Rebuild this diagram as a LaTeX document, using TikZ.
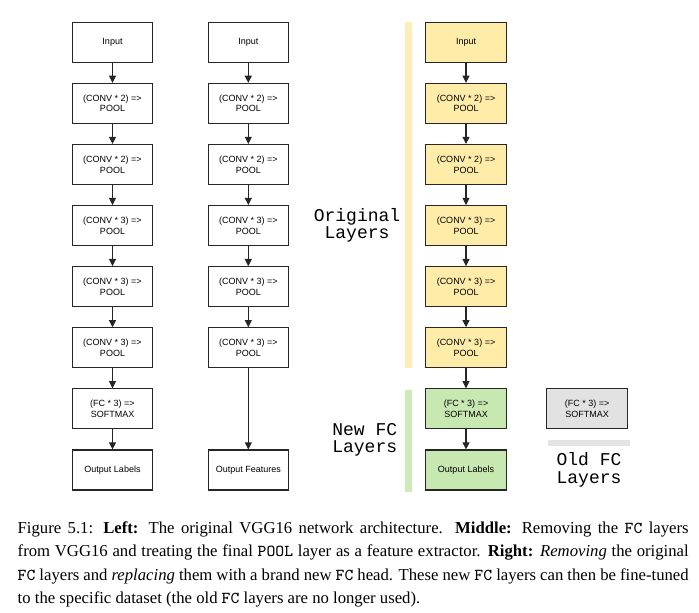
\documentclass[tikz,border=0pt]{standalone}
\usepackage{fontspec}
\setmainfont{Liberation Serif}
\setsansfont{Liberation Sans}
\newfontfamily\courierfont{Liberation Mono}
\usetikzlibrary{
  arrows.meta,
  positioning
}
\definecolor{origcolor}{RGB}{255,236,168}
\definecolor{origbar}{RGB}{255,238,184}
\definecolor{newcolor}{RGB}{200,232,178}
\definecolor{newbar}{RGB}{204,234,186}
\definecolor{oldcolor}{RGB}{226,226,226}
\definecolor{oldbar}{RGB}{228,228,228}

\begin{document}
\begin{tikzpicture}[x=0.5pt, y=-0.5pt, >=Triangle]
  \useasboundingbox (0,0) rectangle (699,612);

  \tikzset{
    lbox/.style={
      draw=black!85, line width=0.55pt, minimum width=40.2pt,
      minimum height=20pt, inner sep=1pt, align=center,
      font=\sffamily\fontsize{4.5}{5.3}\selectfont
    },
    conn/.style={-{Triangle[length=3.6pt, width=3.5pt]}, line width=0.55pt, black!85},
    side/.style={align=center, font=\courierfont\fontsize{9}{8.8}\selectfont}
  }

  % ---- Left column: original VGG16 ----
  \node[lbox] (lin) at (112.5, 42.3) {Input};
  \node[lbox, below=10pt of lin] (lc1) {(CONV * 2) =>\\POOL};
  \node[lbox, below=10pt of lc1] (lc2) {(CONV * 2) =>\\POOL};
  \node[lbox, below=10pt of lc2] (lc3) {(CONV * 3) =>\\POOL};
  \node[lbox, below=10pt of lc3] (lc4) {(CONV * 3) =>\\POOL};
  \node[lbox, below=10pt of lc4] (lc5) {(CONV * 3) =>\\POOL};
  \node[lbox, below=10pt of lc5] (lfc) {(FC * 3) =>\\SOFTMAX};
  \node[lbox, below=10pt of lfc] (lout) {Output Labels};

  \draw[conn] (lin) -- (lc1);
  \draw[conn] (lc1) -- (lc2);
  \draw[conn] (lc2) -- (lc3);
  \draw[conn] (lc3) -- (lc4);
  \draw[conn] (lc4) -- (lc5);
  \draw[conn] (lc5) -- (lfc);
  \draw[conn] (lfc) -- (lout);

  % ---- Middle column: feature extractor ----
  \node[lbox] (min) at (248.3, 42.3) {Input};
  \node[lbox, below=10pt of min] (mc1) {(CONV * 2) =>\\POOL};
  \node[lbox, below=10pt of mc1] (mc2) {(CONV * 2) =>\\POOL};
  \node[lbox, below=10pt of mc2] (mc3) {(CONV * 3) =>\\POOL};
  \node[lbox, below=10pt of mc3] (mc4) {(CONV * 3) =>\\POOL};
  \node[lbox, below=10pt of mc4] (mc5) {(CONV * 3) =>\\POOL};
  \node[lbox] (mout) at (mc5 |- lout) {Output Features};

  \draw[conn] (min) -- (mc1);
  \draw[conn] (mc1) -- (mc2);
  \draw[conn] (mc2) -- (mc3);
  \draw[conn] (mc3) -- (mc4);
  \draw[conn] (mc4) -- (mc5);
  \draw[conn] (mc5) -- (mout);

  % ---- Right column: new FC head ----
  \node[lbox, fill=origcolor] (rin) at (466, 42.3) {Input};
  \node[lbox, fill=origcolor, below=10pt of rin] (rc1) {(CONV * 2) =>\\POOL};
  \node[lbox, fill=origcolor, below=10pt of rc1] (rc2) {(CONV * 2) =>\\POOL};
  \node[lbox, fill=origcolor, below=10pt of rc2] (rc3) {(CONV * 3) =>\\POOL};
  \node[lbox, fill=origcolor, below=10pt of rc3] (rc4) {(CONV * 3) =>\\POOL};
  \node[lbox, fill=origcolor, below=10pt of rc4] (rc5) {(CONV * 3) =>\\POOL};
  \node[lbox, fill=newcolor, below=10pt of rc5] (rfc) {(FC * 3) =>\\SOFTMAX};
  \node[lbox, fill=newcolor, below=10pt of rfc] (rout) {Output Labels};

  \draw[conn] (rin) -- (rc1);
  \draw[conn] (rc1) -- (rc2);
  \draw[conn] (rc2) -- (rc3);
  \draw[conn] (rc3) -- (rc4);
  \draw[conn] (rc4) -- (rc5);
  \draw[conn] (rc5) -- (rfc);
  \draw[conn] (rfc) -- (rout);

  % old FC head, no longer used
  \node[lbox, fill=oldcolor, right=19.8pt of rfc] (ofc) {(FC * 3) =>\\SOFTMAX};

  % ---- Side bars and labels ----
  \fill[origbar] (405, 22) rectangle (411.7, 368);
  \fill[newbar] (405, 389.5) rectangle (411.7, 491.5);
  \fill[oldbar] (547.7, 440) rectangle (630, 446);

  \node[side] (origlbl) at (357, 225.5) {Original\\Layers};
  \node[side] (newlbl) at (364.7, 440) {New FC\\Layers};
  \node[side] (oldlbl) at (589, 470) {Old FC\\Layers};

  % ---- Caption ----
  \node[anchor=north west, inner sep=0pt, text width=335.5pt, align=justify,
        font=\fontsize{8.35}{11.65}\selectfont] (caption) at (17.3, 521.5) {%
    \noindent Figure 5.1: \textbf{Left:} The original VGG16 network architecture.
    \textbf{Middle:} Removing the \texttt{FC} layers\linebreak
    from VGG16 and treating the final \texttt{POOL} layer as a feature extractor.
    \textbf{Right:} \textit{Removing} the original\linebreak
    \texttt{FC} layers and \textit{replacing} them with a brand new \texttt{FC} head.
    These new \texttt{FC} layers can then be fine-tuned\linebreak
    to the specific dataset (the old \texttt{FC} layers are no longer used).};

\end{tikzpicture}
\end{document}
